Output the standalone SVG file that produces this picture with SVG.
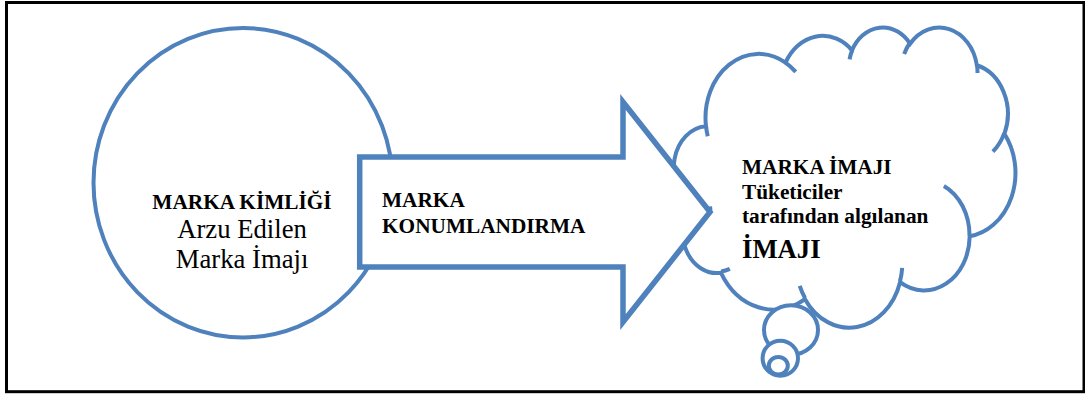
<svg xmlns="http://www.w3.org/2000/svg" width="1085" height="394" viewBox="0 0 1085 394">
  <style>
    .shape { fill: #ffffff; stroke: #4f81bd; stroke-width: 4; }
    .arrow { fill: #ffffff; stroke: #4f81bd; stroke-width: 5.5; stroke-linejoin: miter; }
    .hook { fill: none; stroke: #4f81bd; stroke-width: 4; }
    .ns { vector-effect: non-scaling-stroke; }
    .b { font-family: "Liberation Serif", "Times New Roman", serif; font-weight: bold; font-size: 21.3px; fill: #000000; }
    .r { font-family: "Liberation Serif", "Times New Roman", serif; font-size: 26.7px; fill: #000000; }
    .big { font-size: 26.7px; }
  </style>

  <!-- outer frame -->
  <rect x="6.5" y="2.5" width="1077.5" height="389.2" fill="#ffffff" stroke="#000000" stroke-width="3"/>

  <!-- brand identity circle -->
  <g id="identity">
    <ellipse class="shape" cx="243" cy="182.7" rx="149.5" ry="154.7"/>
  </g>

  <!-- brand image thought cloud (cloud geometry in 43200-unit space) -->
  <g id="image-cloud">
    <g transform="translate(675.3 26.5) scale(0.0078704 0.0069444)">
      <path class="shape ns" d="M3900 14370 A6753 9190 0 0 1 14005.7 5202.7 A5333 7267 0 0 1 22456.6 3433 A4365 5945 0 0 1 29833.6 2481.5 A4857 6595 0 0 1 38318.6 5577.2 A5333 7273 0 0 1 41819 15461.1 A6775 9220 0 0 1 37405.1 30204.5 A5785 7867 0 0 1 28556.4 36814.4 A6752 9215 0 0 1 16480.6 39265 A7720 10543 0 0 1 5805.1 35471 A4360 5918 0 0 1 2113.8 25549 A4345 5945 0 0 1 3900 14370 Z"/>
      <path class="hook ns" d="M4693 26177 A4345 5945 0 0 1 2159.5 25379.9 M6928 34899 A4360 5918 0 0 1 5819.6 35280.6 M16478 39090 A6752 9215 0 0 1 15810.3 37350 M28827 34751 A6752 9215 0 0 1 28560.4 36660.1 M34129 22954 A5785 7867 0 0 1 37379.8 30089.1 M41798 15354 A5333 7273 0 0 1 40350.2 18029.6 M38324 5426 A4857 6595 0 0 1 38400.4 6689.6 M29078 3952 A4857 6595 0 0 1 29820 2339.3 M22141 4720 A4365 5945 0 0 1 22500.1 3330.2 M14000 5192 A6753 9190 0 0 1 15299.4 6540.2 M4127 15789 A6753 9190 0 0 1 3900.2 14370.2"/>
    </g>
    <ellipse class="shape" cx="791" cy="330" rx="27" ry="24.8"/>
    <ellipse class="shape" cx="780.3" cy="358.3" rx="17.7" ry="17.5"/>
    <ellipse class="shape" cx="778.3" cy="365.8" rx="9.5" ry="8.8"/>
  </g>

  <!-- positioning arrow -->
  <g id="connectors">
    <g id="positioning">
      <polygon class="arrow" points="359.7,157 623,157 623,102 710,212 623,322 623,267 359.7,267"/>
    </g>
  </g>

  <!-- labels -->
  <g id="identity-label">
    <text class="b" x="242" y="209" text-anchor="middle">MARKA KİMLİĞİ</text>
    <text class="r" x="242" y="238" text-anchor="middle">Arzu Edilen</text>
    <text class="r" x="242" y="268" text-anchor="middle">Marka İmajı</text>
  </g>
  <g id="positioning-label">
    <text class="b" x="382" y="206.7">MARKA</text>
    <text class="b" x="382" y="233.3">KONUMLANDIRMA</text>
  </g>
  <g id="image-label">
    <text class="b" x="742" y="174">MARKA İMAJI</text>
    <text class="b" x="742" y="199">Tüketiciler</text>
    <text class="b" x="742" y="222.7">tarafından algılanan</text>
    <text class="b big" x="742" y="258">İMAJI</text>
  </g>
</svg>
